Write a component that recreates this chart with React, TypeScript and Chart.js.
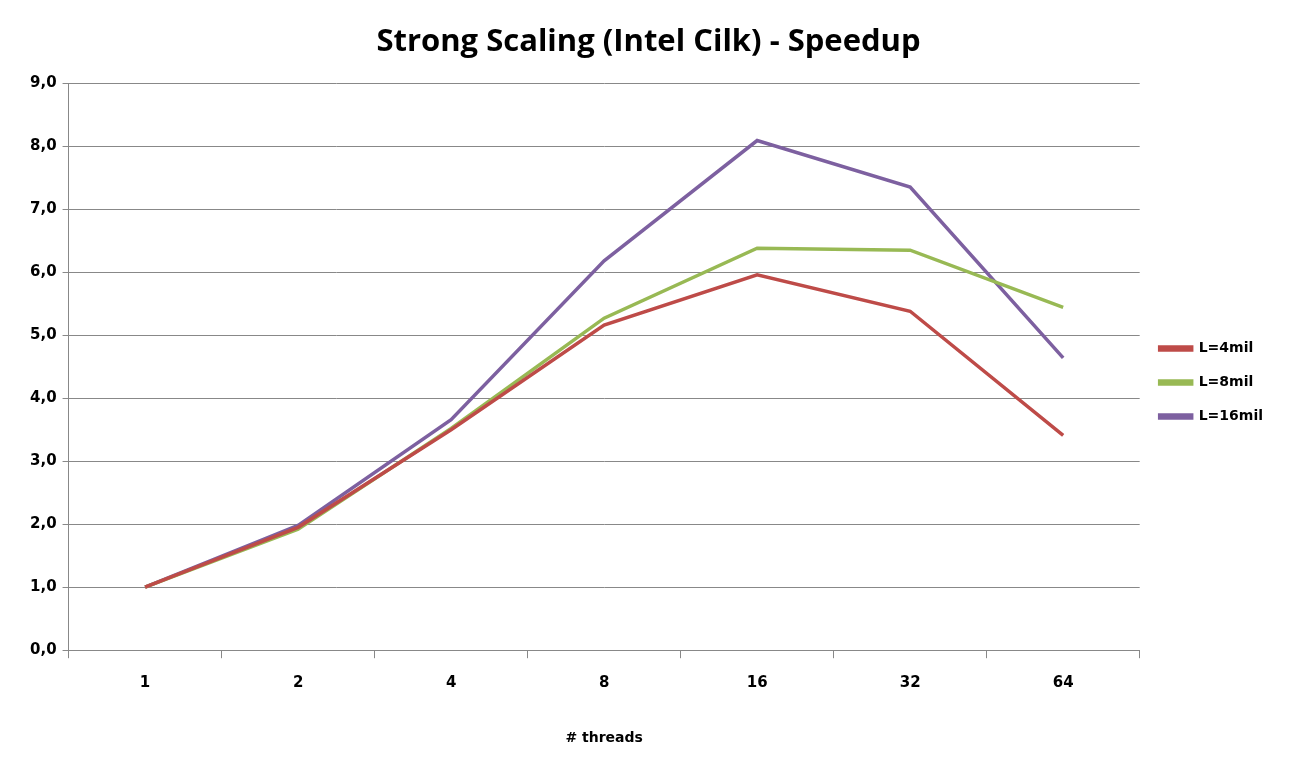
import React, { useEffect, useRef } from "react";
import { Chart, registerables } from "chart.js";
Chart.register(...registerables);

const categories = ["1", "2", "4", "8", "16", "32", "64"];
const l4 = [1.0, 1.95, 3.5, 5.16, 5.96, 5.38, 3.41];
const l8 = [1.0, 1.92, 3.52, 5.27, 6.38, 6.35, 5.44];
const l16 = [1.0, 1.98, 3.66, 6.18, 8.09, 7.35, 4.64];

export default function App() {
  const ref = useRef<HTMLCanvasElement>(null);
  useEffect(() => {
    const font = { family: "DejaVu Sans", weight: "bold" as const, size: 14 };
    const chart = new Chart(ref.current!, {
      type: "line",
      data: {
        labels: categories,
        datasets: [
          { label: "L=4mil", data: l4, borderColor: "#be4b48", backgroundColor: "#be4b48" },
          { label: "L=8mil", data: l8, borderColor: "#98b954", backgroundColor: "#98b954" },
          { label: "L=16mil", data: l16, borderColor: "#7d60a0", backgroundColor: "#7d60a0" },
        ].map((d) => ({ ...d, borderWidth: 3.5, pointRadius: 0, tension: 0 })),
      },
      options: {
        animation: false,
        responsive: false,
        layout: { padding: { left: 24, right: 18, top: 14, bottom: 24 } },
        plugins: {
          title: {
            display: true,
            text: "Strong Scaling (Intel Cilk) - Speedup",
            color: "#000",
            font: { family: "Open Sans", weight: "bold", size: 31 },
            padding: { top: 10, bottom: 22 },
          },
          legend: {
            position: "right",
            labels: { color: "#000", font, boxWidth: 32, boxHeight: 3, padding: 20 },
          },
          tooltip: { enabled: false },
        },
        scales: {
          x: {
            offset: true,
            grid: { offset: true, drawOnChartArea: false, color: "#888", tickLength: 8 },
            border: { color: "#888" },
            ticks: { color: "#000", font: { ...font, size: 15 }, padding: 16 },
            title: { display: true, text: "# threads", color: "#000", font, padding: { top: 22 } },
          },
          y: {
            min: 0,
            max: 9,
            grid: { color: "#888", tickLength: 6 },
            border: { color: "#888" },
            ticks: {
              stepSize: 1,
              color: "#000",
              font: { ...font, size: 15 },
              padding: 6,
              callback: (v: any) => Number(v).toFixed(1).replace(".", ","),
            },
          },
        },
      },
    });
    return () => chart.destroy();
  }, []);
  return (
    <div style={{ position: "absolute", left: 0, top: 0, width: 1291, height: 775, background: "#fff" }}>
      <canvas ref={ref} width={1291} height={775} />
    </div>
  );
}
